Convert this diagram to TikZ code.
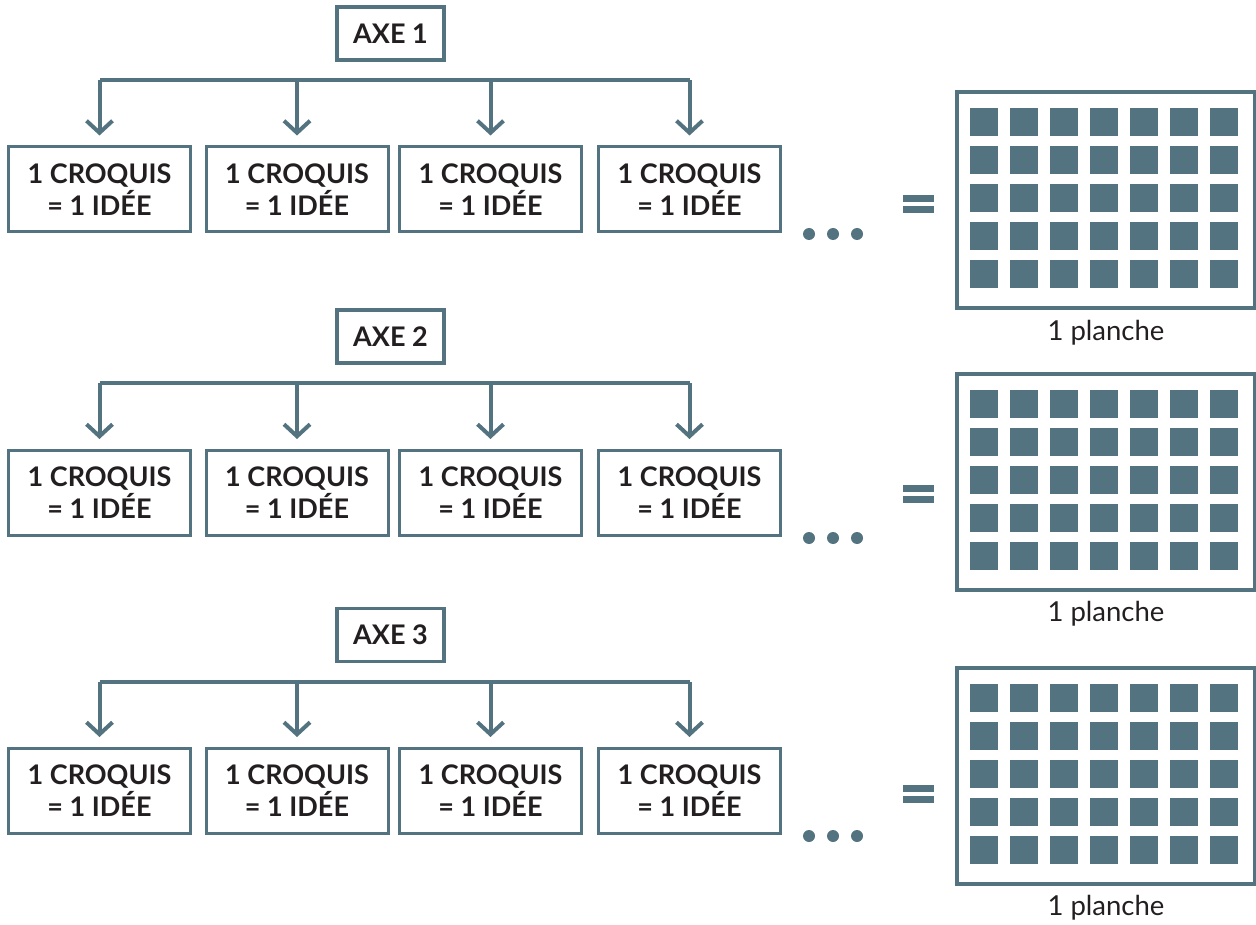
\documentclass[tikz,border=0pt]{standalone}
\usepackage{fontspec}
\setmainfont{Lato}
\usepackage{xcolor}
\usetikzlibrary{arrows.meta}
\definecolor{ardoise}{HTML}{537380}
\definecolor{encre}{HTML}{231F20}

\tikzset{
  idee/.style={draw=ardoise, line width=3pt, minimum width=182pt, minimum height=85pt,
    inner sep=0pt, align=center, text=encre, font=\fontsize{27}{32}\selectfont\bfseries},
  axe/.style={draw=ardoise, line width=3.5pt, minimum width=107pt, minimum height=53pt,
    inner sep=0pt, text=encre, font=\fontsize{27}{30}\selectfont\bfseries},
  branche/.style={draw=ardoise, line width=4pt},
  fleche/.style={branche, -{Straight Barb[length=12pt,width=26pt,line width=4pt]}},
  planche/.style={draw=ardoise, line width=4pt, minimum width=298pt, minimum height=216pt, inner sep=0pt},
  legende/.style={text=encre, font=\fontsize{27.5}{30}\selectfont},
}

\begin{document}
\begin{tikzpicture}[x=1pt,y=-1pt]
\useasboundingbox (0,0) rectangle (1256,925);

% one row per axis: axe y / bar y / croquis y / dots y / equals y / planche y / legend y
\foreach \n/\ya/\yb/\yc/\yd/\ye/\yp/\yl in {
    1/33.5/80/189.5/234/204/200/333,
    2/336.5/383/493/538/494/481.5/614,
    3/635/682/791/836/794/776/908}{
  \node[axe] (axe\n) at (390.5,\ya) {AXE \n};
  \coordinate (bar\n) at (0,\yb);
  \node[idee] (c\n a) at (99.5,\yc)  {1 CROQUIS\\= 1 IDÉE};
  \node[idee] (c\n b) at (297,\yc)   {1 CROQUIS\\= 1 IDÉE};
  \node[idee] (c\n c) at (490.5,\yc) {1 CROQUIS\\= 1 IDÉE};
  \node[idee] (c\n d) at (689.5,\yc) {1 CROQUIS\\= 1 IDÉE};
  % bracket with four arrows
  \draw[branche] (c\n a.north |- bar\n) -- (c\n d.north |- bar\n);
  \foreach \k in {a,b,c,d}
    \draw[fleche] (c\n\k.north |- bar\n) -- ([yshift=10pt]c\n\k.north);
  % dots and equals sign
  \foreach \x in {809,833,857}
    \fill[ardoise] (\x,\yd) circle (6pt);
  \fill[ardoise] (903,\ye-9) rectangle (934,\ye-2);
  \fill[ardoise] (903,\ye+2) rectangle (934,\ye+9);
  % the sheet of sketches
  \node[planche] (pl\n) at (1106,\yp) {};
  \foreach \i in {0,...,6}
    \foreach \j in {0,...,4}
      \fill[ardoise] ([xshift=15pt+40pt*\i,yshift=-18pt-38pt*\j]pl\n.north west)
        rectangle ++(28,28);
  \node[legende] (lg\n) at (1106,\yl) {1 planche};
}
\end{tikzpicture}
\end{document}
